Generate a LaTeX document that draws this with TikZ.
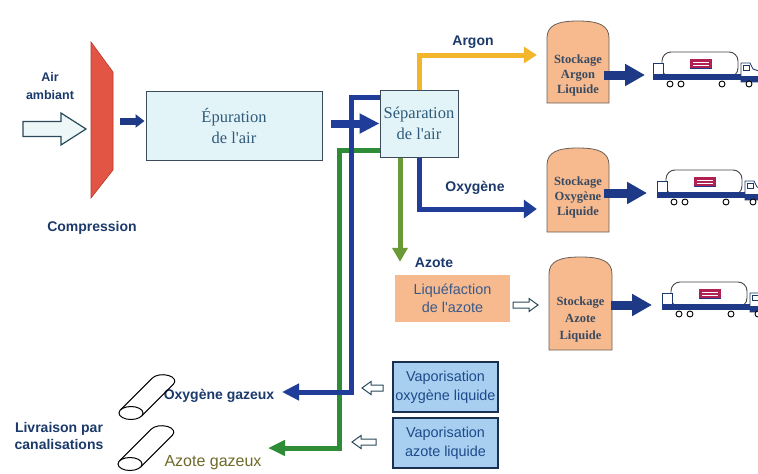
\documentclass[tikz,border=0pt]{standalone}
\usepackage{fontspec}
\setmainfont{Liberation Serif}[Ligatures=TeXOff]
\setsansfont{Liberation Sans}[Ligatures=TeXOff]
\usetikzlibrary{arrows.meta,calc}

\definecolor{ink}{HTML}{1B3A6B}
\definecolor{flowblue}{HTML}{1F3D99}
\definecolor{navyarrow}{HTML}{1E3A86}
\definecolor{loopgreen}{HTML}{2E8B36}
\definecolor{downgreen}{HTML}{6A9A35}
\definecolor{argonyellow}{HTML}{F2B52B}
\definecolor{comprred}{HTML}{E25544}
\definecolor{comprdark}{HTML}{B8382C}
\definecolor{cyanfill}{HTML}{E3F4F8}
\definecolor{boxline}{HTML}{3C4C5C}
\definecolor{tealtext}{HTML}{2F5A7A}
\definecolor{peach}{HTML}{F6BA8E}
\definecolor{tankline}{HTML}{6A6058}
\definecolor{slate}{HTML}{3A4A60}
\definecolor{vapfill}{HTML}{A9CFF0}
\definecolor{vapline}{HTML}{1A3050}
\definecolor{vaptext}{HTML}{1D4A8A}
\definecolor{liqtext}{HTML}{3A5A8A}
\definecolor{olive}{HTML}{6E6A2A}
\definecolor{hollowfill}{HTML}{EEF7F8}
\definecolor{hollowline}{HTML}{2A4A5A}
\definecolor{logored}{HTML}{B02050}

% outlined (hollow) block arrow: tail x, tip x, y, shaft half, head half, head length (negative = leftwards)
\newcommand\hollowarrow[7][]{%
  \draw[hollow,#1] (#2,#4-#5) -- ({#3-(#7)},#4-#5) -- ({#3-(#7)},#4-#6) -- (#3,#4)
    -- ({#3-(#7)},#4+#6) -- ({#3-(#7)},#4+#5) -- (#2,#4+#5) -- cycle;}

% storage tank with a domed top: name, x0, y0, x1, y1, centre x, centre y, width, height
\newcommand\stocktank[9]{%
  \draw[tank] (#2,#5) -- (#2,#3+17) .. controls (#2,#3+4) and (#2+11,#3) .. (#6,#3)
    .. controls (#4-11,#3) and (#4,#3+4) .. (#4,#3+17) -- (#4,#5) -- cycle;
  \node[inner sep=0pt, minimum width=#8, minimum height=#9] (#1) at (#6,#7) {};}

% pipeline section seen obliquely, its open end at the given centre
\newcommand\pipesection[1]{%
  \begin{scope}[shift={#1}]
    \draw[line width=1pt] (-10.56,-3.09) -- (21.26,-34.91)
      arc[start angle=208.4, end angle=388.4, x radius=12, y radius=6.5] -- (10.56,3.09);
    \draw[line width=1pt, fill=white] (0,0) ellipse[x radius=12, y radius=6.5];
  \end{scope}}

\tikzset{
  lbl/.style={font=\sffamily\bfseries\fontsize{14}{17}\selectfont, text=ink, inner sep=0pt, align=center},
  serifbox/.style={draw=boxline, line width=1pt, fill=cyanfill, text=tealtext,
    font=\fontsize{16.5}{21}\selectfont, align=center, inner sep=0pt},
  liqbox/.style={fill=peach, text=liqtext, font=\sffamily\fontsize{14.4}{18}\selectfont,
    align=center, inner sep=0pt},
  vapbox/.style={draw=vapline, line width=1.6pt, fill=vapfill, text=vaptext,
    font=\sffamily\fontsize{14.4}{19}\selectfont, align=center, inner sep=0pt},
  tank/.style={draw=tankline, line width=0.8pt, fill=peach},
  tanktext/.style={font=\bfseries\fontsize{12.5}{15}\selectfont, text=slate, align=center, inner sep=0pt},
  hollow/.style={draw=hollowline, line width=1pt, fill=white, line join=miter},
  flowpipe/.style={line width=5pt, line join=miter},
  fat/.style={navyarrow, line width=9pt, -{Triangle[length=20pt,width=21pt]}},
  truck/.pic={
    % tank trailer
    \draw[line width=0.9pt, draw=gray!55!black, fill=white, rounded corners=9pt] (9,0) rectangle (85,25);
    % rear box
    \draw[line width=0.8pt, draw=ink, fill=white] (0,11) rectangle (10,26);
    % chassis
    \fill[navyarrow] (0,22) rectangle (88,28);
    % cab
    \draw[line width=0.8pt, draw=ink, fill=white] (88,11) -- (97,11) -- (100,17) -- (106,19) -- (106,30) -- (88,30) -- cycle;
    \fill[navyarrow] (88,24) rectangle (106,30);
    \draw[line width=0.6pt, draw=ink, fill=white] (90,13) rectangle (96,18);
    % company logo
    \fill[logored] (37,7) rectangle (59,17);
    \fill[white] (40,10) rectangle (56,11.3);
    \fill[white] (40,13) rectangle (56,14.3);
    \fill[navyarrow] (37,15.8) rectangle (59,17);
    % wheels
    \foreach \wx in {17,28,69,96}
      \draw[line width=0.9pt, draw=black, fill=white] (\wx,32) circle (3);
  }
}

\begin{document}
\begin{tikzpicture}[x=1pt,y=-1pt]
\useasboundingbox (0,0) rectangle (758,474);
\clip (0,0) rectangle (758,474);
\fill[white] (0,0) rectangle (758,474);

% ---------- intake and compression ----------
\node[lbl, font=\sffamily\bfseries\fontsize{12.5}{18}\selectfont] (air) at (50,86) {Air\\ambiant};
\hollowarrow[fill=hollowfill, line width=1.2pt]{23}{86}{129}{7.5}{16}{25}
\draw[fill=comprred, draw=comprdark, line width=0.6pt] (91,42) -- (113,72) -- (113,170) -- (91,198) -- cycle;
\coordinate (comp) at (113,121);
\node[lbl] (compr) at (92,228) {Compression};

% ---------- process boxes ----------
\node[serifbox, minimum width=176, minimum height=69] (epur) at (234,125.5) {Épuration\\de l'air};
\node[serifbox, minimum width=78, minimum height=67] (sep) at (419,123.5) {Séparation\\de l'air};
\node[liqbox, minimum width=115, minimum height=47] (liq) at (452.5,298.5) {Liquéfaction\\de l'azote};
\node[vapbox, minimum width=105, minimum height=50] (vapO) at (445.5,387) {Vaporisation\\oxygène liquide};
\node[vapbox, minimum width=105, minimum height=50] (vapN) at (445.5,443) {Vaporisation\\azote liquide};

\draw[navyarrow, line width=7pt, -{Triangle[length=9pt,width=13pt]}]
  ($(comp)+(7,0)$) -- ($(epur.west |- comp)+(-1,0)$);
\draw[flowblue, line width=8pt, -{Triangle[length=20pt,width=19pt]}]
  ($(epur.east |- sep.west)+(8,0)$) -- (sep.west);

% ---------- storage tanks ----------
\stocktank{tankA}{547}{21}{609}{103}{578}{62}{62}{82}
\stocktank{tankO}{547}{148}{609}{232}{578}{190}{62}{84}
\stocktank{tankN}{549}{257}{612}{350}{580.5}{303.5}{63}{93}
\node[tanktext] (tA) at (578,75) {Stockage\\Argon\\Liquide};
\node[tanktext] (tO) at (578,197) {Stockage\\Oxygène\\Liquide};
\node[tanktext, font=\bfseries\fontsize{12.5}{17}\selectfont] (tN) at (580.5,319) {Stockage\\Azote\\Liquide};

% ---------- products leaving the separation column ----------
\coordinate (yA) at (0,55);
\coordinate (yO) at (0,209);
\coordinate (gx) at (400,0);
\draw[flowpipe, argonyellow, shorten >=10pt, -{Triangle[length=13pt,width=16pt]}]
  (sep.north) |- (tankA.west |- yA);
\draw[flowpipe, flowblue, shorten >=10pt, -{Triangle[length=13pt,width=18pt]}]
  (sep.south) |- (tankO.west |- yO);
\draw[flowpipe, downgreen, shorten >=13pt, -{Triangle[length=14pt,width=15pt]}]
  (sep.south -| gx) -- (liq.north -| gx);
\node[lbl] (lArgon) at (473,42) {Argon};
\node[lbl] (lOxy) at (475,188) {Oxygène};
\node[lbl] (lAzote) at (434,263) {Azote};

% ---------- gas delivery loops ----------
\coordinate (bendN) at (339,448);
\coordinate (azgz) at (268,448);
\coordinate (bendO) at (351,392);
\coordinate (oxgz) at (282,392);
\draw[flowpipe, loopgreen, -{Triangle[length=17pt,width=15pt]}]
  ($(sep.south west)+(0,-7)$) -| (bendN) -- (azgz);
\draw[flowpipe, flowblue, -{Triangle[length=17pt,width=16pt]}]
  ($(sep.north west)+(0,8)$) -| (bendO) -- (oxgz);
\node[lbl] (lOg) at (219,396) {Oxygène gazeux};
\node[lbl, font=\sffamily\fontsize{16}{18}\selectfont, text=olive] (lAg) at (213,463) {Azote gazeux};
\node[lbl] (livr) at (59,436) {Livraison par\\canalisations};

% ---------- hollow transfer arrows ----------
\hollowarrow{513}{538}{305}{3}{6.5}{9}
\hollowarrow{383}{362}{388}{3}{6.5}{-9}
\hollowarrow{376}{352}{442}{3}{6.5}{-9}

% ---------- pipelines ----------
\pipesection{(131,413)}
\pipesection{(130,464)}

% ---------- road transport ----------
\coordinate (tipA) at (645,75);
\coordinate (tipO) at (647,193);
\coordinate (tipN) at (652,305);
\draw[fat] ($(tankA.east |- tipA)+(-5,0)$) -- (tipA);
\draw[fat] ($(tankO.east |- tipO)+(-5,0)$) -- (tipO);
\draw[fat] ($(tankN.east |- tipN)+(-1,0)$) -- (tipN);
\pic (truckA) at (653,52) {truck};
\pic (truckO) at (657,170) {truck};
\pic (truckN) at (662,282) {truck};
\end{tikzpicture}
\end{document}
